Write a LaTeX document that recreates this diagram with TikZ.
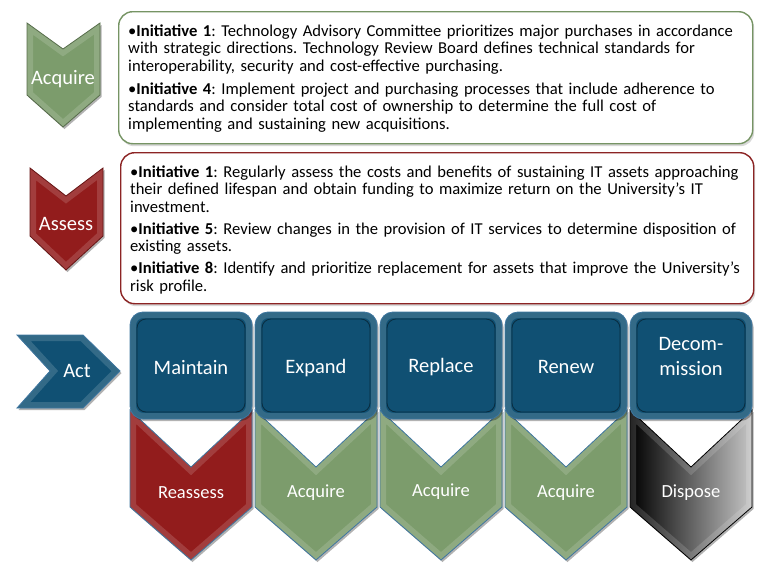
\documentclass[tikz,border=0pt]{standalone}
\usepackage{fontspec}
\setmainfont{Carlito}
\usetikzlibrary{shadows,positioning}

\definecolor{acqgreen}{RGB}{124,156,108}
\definecolor{assred}{RGB}{146,28,28}
\definecolor{actblue}{RGB}{16,80,115}
\definecolor{actrim}{RGB}{62,118,160}
\definecolor{greenline}{RGB}{118,148,100}
\definecolor{redline}{RGB}{140,36,36}

% filled shape with shadow, bevel rim and outline
\newcommand{\bevelpath}[3]{%
  \fill[black, opacity=0.3, xshift=1.5pt, yshift=-2pt] #3;
  \path[#1] #3;
  \begin{scope}
    \clip #3;
    \draw[white, opacity=0.15, line width=12pt] #3;
  \end{scope}
  \draw[#2, line width=0.8pt] #3;
}

\tikzset{
  initbox/.style={draw=#1, line width=1.4pt, rounded corners=14pt, fill=white,
    inner sep=0pt, anchor=north west,
    drop shadow={shadow xshift=1.5pt, shadow yshift=-2.5pt, opacity=0.3}},
  inittext/.style={inner sep=0pt, anchor=north west, text width=640pt, align=left,
    font=\fontsize{16.6}{17.5}\selectfont\frenchspacing},
  faceedge/.style={draw=actblue!55!black, line width=0.8pt, rounded corners=9pt},
  chevlabel/.style={text=white, inner sep=0pt, font=\fontsize{20.5}{22}\selectfont},
  actlabel/.style={text=white, inner sep=0pt, align=center, font=\fontsize{20.5}{25}\selectfont},
  steplabel/.style={text=white, inner sep=0pt, font=\fontsize{18.5}{20}\selectfont}
}

\begin{document}
\begin{tikzpicture}[x=1pt,y=-1pt]
\useasboundingbox (0,0) rectangle (769,576);

% left column chevrons
\bevelpath{fill=acqgreen}{acqgreen!70!black}{(27,23) -- (63,49) -- (100,23) -- (100,95) -- (63,127) -- (27,95) -- cycle}
\node[chevlabel] (acqlabel) at (63,79) {Acquire};
\bevelpath{fill=assred}{assred!70!black}{(30,168) -- (66,196) -- (103,168) -- (103,236) -- (66,270) -- (30,236) -- cycle}
\node[chevlabel] (asslabel) at (66,224) {Assess};
\bevelpath{fill=actblue}{actrim}{(17,335) -- (83,335) -- (120,371) -- (83,408) -- (17,408) -- (50,371) -- cycle}
\node[chevlabel] (actlabel) at (77,371) {Act};

% initiative boxes
\node[initbox=greenline, minimum width=634pt, minimum height=132pt] (acqbox) at (118,11) {};
\node[inittext] (acqtext) at ([xshift=10pt, yshift=-13.5pt]acqbox.north west) {%
\noindent\hangindent=8pt\hangafter=1\textbullet\textbf{Initiative 1}: Technology Advisory Committee prioritizes major purchases in accordance\\
with strategic directions. Technology Review Board defines technical standards for\\
interoperability, security and cost-effective purchasing.\par\vspace{5.5pt}
\noindent\hangindent=8pt\hangafter=1\textbullet\textbf{Initiative 4}: Implement project and purchasing processes that include adherence to\\
standards and consider total cost of ownership to determine the full cost of\\
implementing and sustaining new acquisitions.};

\node[initbox=redline, minimum width=633pt, minimum height=151pt] (assbox) at (120,152) {};
\node[inittext] (asstext) at ([xshift=10pt, yshift=-13.5pt]assbox.north west) {%
\noindent\hangindent=8pt\hangafter=1\textbullet\textbf{Initiative 1}: Regularly assess the costs and benefits of sustaining IT assets approaching\\
their defined lifespan and obtain funding to maximize return on the University's IT\\
investment.\par\vspace{4.5pt}
\noindent\hangindent=8pt\hangafter=1\textbullet\textbf{Initiative 5}: Review changes in the provision of IT services to determine disposition of\\
existing assets.\par\vspace{4.5pt}
\noindent\hangindent=8pt\hangafter=1\textbullet\textbf{Initiative 8}: Identify and prioritize replacement for assets that improve the University's\\
risk profile.};

% lower chevrons
\bevelpath{fill=assred}{actrim}{(130,410) -- (191,467) -- (252,410) -- (252,507) -- (191,560) -- (130,507) -- cycle}
\bevelpath{fill=acqgreen}{actrim}{(255,410) -- (316,467) -- (377,410) -- (377,507) -- (316,560) -- (255,507) -- cycle}
\bevelpath{fill=acqgreen}{actrim}{(380,410) -- (441,467) -- (502,410) -- (502,507) -- (441,560) -- (380,507) -- cycle}
\bevelpath{fill=acqgreen}{actrim}{(505,410) -- (566,467) -- (627,410) -- (627,507) -- (566,560) -- (505,507) -- cycle}
\bevelpath{left color=black, right color=gray!45}{black}{(630,410) -- (691,467) -- (752,410) -- (752,507) -- (691,560) -- (630,507) -- cycle}
\node[steplabel] (reassess) at (191,493) {Reassess};
\node[steplabel] (acqexpand) at (316,493) {Acquire};
\node[steplabel] (acqreplace) at (441,492) {Acquire};
\node[steplabel] (acqrenew) at (566,493) {Acquire};
\node[steplabel] (dispose) at (691,493) {Dispose};

% action boxes
\bevelpath{fill=actblue}{actrim}{[rounded corners=13pt] (130,312) rectangle (252,419)}
\bevelpath{fill=actblue}{actrim}{[rounded corners=13pt] (255,312) rectangle (377,419)}
\bevelpath{fill=actblue}{actrim}{[rounded corners=13pt] (380,312) rectangle (502,419)}
\bevelpath{fill=actblue}{actrim}{[rounded corners=13pt] (505,312) rectangle (627,419)}
\bevelpath{fill=actblue}{actrim}{[rounded corners=13pt] (630,312) rectangle (752,419)}
\draw[faceedge] (137,319) rectangle (245,412);
\draw[faceedge] (262,319) rectangle (370,412);
\draw[faceedge] (387,319) rectangle (495,412);
\draw[faceedge] (512,319) rectangle (620,412);
\draw[faceedge] (637,319) rectangle (745,412);
\node[actlabel] (maintain) at (191,368) {Maintain};
\node[actlabel] (expand) at (316,368) {Expand};
\node[actlabel] (replace) at (441,367) {Replace};
\node[actlabel] (renew) at (566,367) {Renew};
\node[actlabel] (decom) at (691,356) {Decom-\\mission};
\end{tikzpicture}
\end{document}
